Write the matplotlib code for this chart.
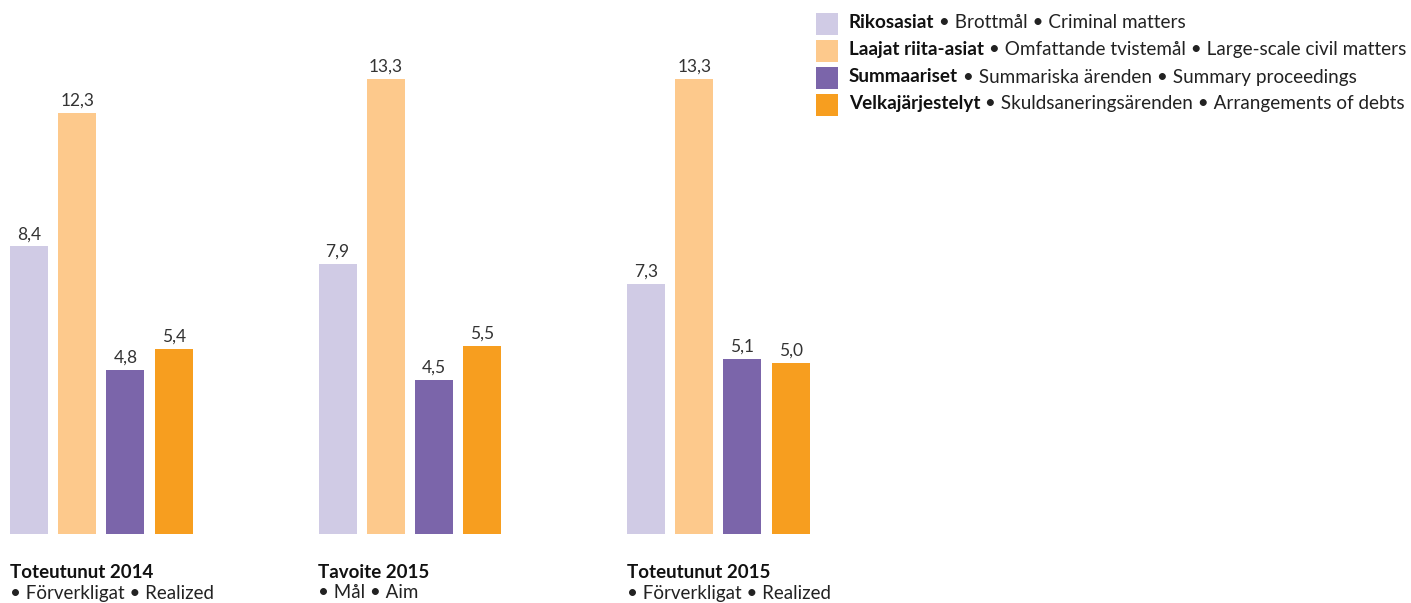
import matplotlib
matplotlib.use("Agg")
import matplotlib.pyplot as plt
from matplotlib.patches import Rectangle

plt.rcParams['font.family'] = ['Lato', 'DejaVu Sans']

groups_bold = ["Toteutunut 2014", "Tavoite 2015", "Toteutunut 2015"]
groups_sub = ["• Förverkligat • Realized", "• Mål • Aim", "• Förverkligat • Realized"]
series_bold = ["Rikosasiat", "Laajat riita-asiat", "Summaariset", "Velkajärjestelyt"]
series_rest = [" • Brottmål • Criminal matters",
               " • Omfattande tvistemål • Large-scale civil matters",
               " • Summariska ärenden • Summary proceedings",
               " • Skuldsaneringsärenden • Arrangements of debts"]
colors = ["#D0CBE5", "#FDC98C", "#7B65AA", "#F79E1F"]
values = [
    [8.4, 7.9, 7.3],    # Rikosasiat
    [12.3, 13.3, 13.3], # Laajat riita-asiat
    [4.8, 4.5, 5.1],    # Summaariset
    [5.4, 5.5, 5.0],    # Velkajärjestelyt
]

W, H = 1411, 603
fig = plt.figure(figsize=(W / 100, H / 100), dpi=100)
ax = fig.add_axes([0, 0, 1, 1])
base_px = 603 - 533.7
ppu = 34.2
ax.set_xlim(0, W)
ax.set_ylim(-base_px / ppu, (H - base_px) / ppu)
ax.axis('off')

group_start = 10.0
group_step = 308.5
bar_step = 48.2
bar_w = 38.0

def fmt(v):
    return f"{v:.1f}".replace('.', ',')

for s, (vals, col) in enumerate(zip(values, colors)):
    for g, v in enumerate(vals):
        x = group_start + g * group_step + s * bar_step
        ax.bar(x, v, width=bar_w, align='edge', color=col, linewidth=0)
        ax.annotate(fmt(v), (x + bar_w / 2, v), xytext=(0, 3), textcoords='offset points',
                    ha='center', va='bottom', fontsize=12.5, color='#333333')

def fx(px):
    return px / W

def fy(py):
    return 1 - py / H

# group labels
for g in range(3):
    x = group_start + g * group_step
    fig.text(fx(x), fy(573), groups_bold[g], fontsize=13.5, fontweight='bold',
             color='#111111', va='center', ha='left')
    fig.text(fx(x), fy(593), groups_sub[g], fontsize=13.5, color='#222222',
             va='center', ha='left')

# legend
renderer = fig.canvas.get_renderer()
row_y = [23, 50, 77, 104]
for i in range(4):
    y = row_y[i]
    fig.patches.append(Rectangle((fx(816), fy(y + 12)), 22 / W, 22 / H,
                                 transform=fig.transFigure, color=colors[i], linewidth=0))
    t = fig.text(fx(849), fy(y), series_bold[i], fontsize=13.6, fontweight='bold',
                 color='#111111', va='center', ha='left')
    bb = t.get_window_extent(renderer)
    fig.text(bb.x1 / W, fy(y), series_rest[i], fontsize=13.6, color='#222222',
             va='center', ha='left')

fig.savefig("out.png", dpi=100)
